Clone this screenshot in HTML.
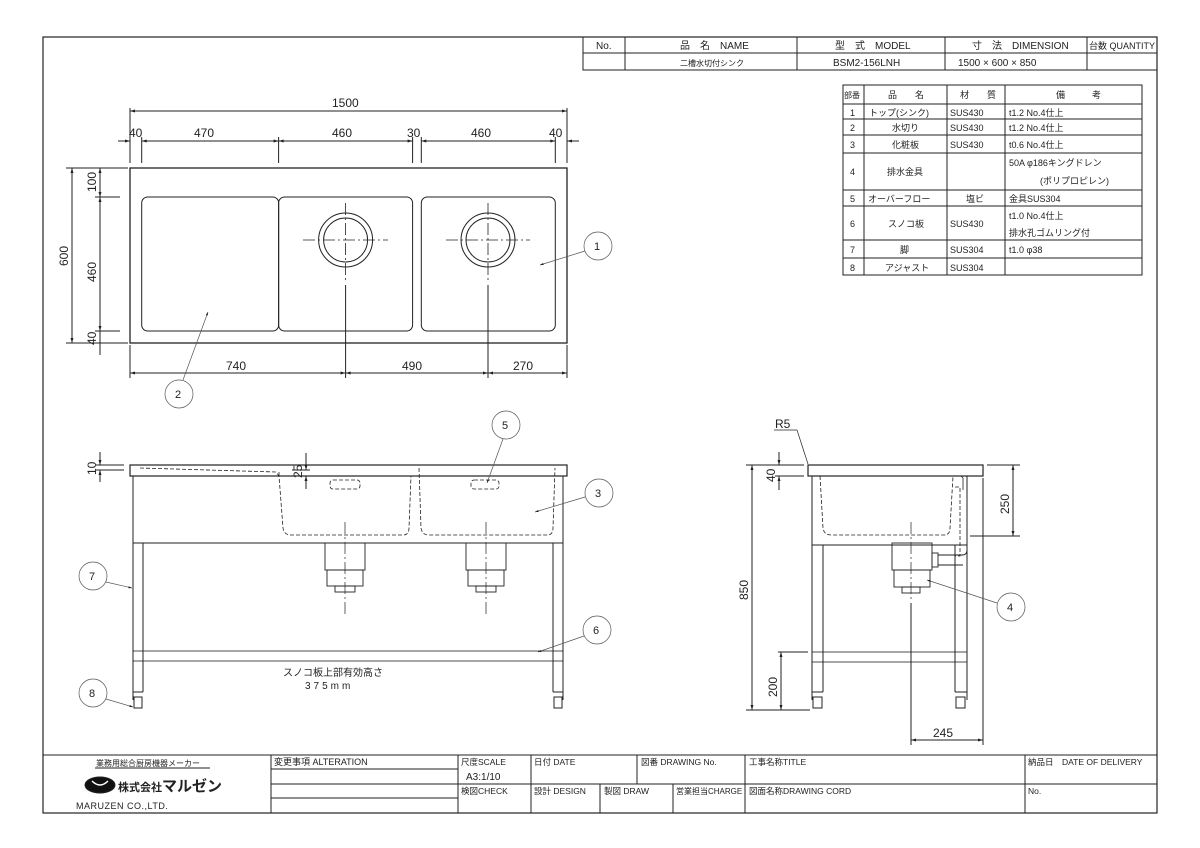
<!DOCTYPE html>
<html><head><meta charset="utf-8"><style>
html,body{margin:0;padding:0;background:#fff}
svg{display:block}
text{font-family:"Liberation Sans","Noto Sans CJK JP",sans-serif;fill:#222}
.t{font-size:10px}
.d{font-size:12px}
.n{font-size:9px}
</style></head><body>
<svg width="1200" height="848" viewBox="0 0 1200 848" xmlns="http://www.w3.org/2000/svg">
<defs>
<marker id="a" viewBox="0 0 10 10" refX="10" refY="5" markerWidth="7" markerHeight="5" orient="auto-start-reverse"><path d="M0,2 L10,5 L0,8z" fill="#222"/></marker>
</defs>
<g stroke="#222" fill="none" stroke-width="1">
<!-- frame -->
<rect x="43" y="37" width="1114" height="776" stroke-width="1.2"/>
<!-- title table top -->
<rect x="583" y="37" width="574" height="33"/>
<line x1="583" y1="53" x2="1157" y2="53"/>
<line x1="625" y1="37" x2="625" y2="70"/><line x1="797" y1="37" x2="797" y2="70"/>
<line x1="945" y1="37" x2="945" y2="70"/><line x1="1087" y1="37" x2="1087" y2="70"/>
<!-- parts table -->
<rect x="843" y="85" width="299" height="190"/>
<line x1="864" y1="85" x2="864" y2="275"/><line x1="947" y1="85" x2="947" y2="275"/><line x1="1005" y1="85" x2="1005" y2="275"/>
<line x1="843" y1="104" x2="1142" y2="104"/><line x1="843" y1="119" x2="1142" y2="119"/>
<line x1="843" y1="135" x2="1142" y2="135"/><line x1="843" y1="153" x2="1142" y2="153"/>
<line x1="843" y1="190" x2="1142" y2="190"/><line x1="843" y1="206" x2="1142" y2="206"/>
<line x1="843" y1="240" x2="1142" y2="240"/><line x1="843" y1="258" x2="1142" y2="258"/>
<!-- bottom title block -->
<line x1="43" y1="755" x2="1157" y2="755"/>
<line x1="271" y1="755" x2="271" y2="813"/><line x1="458" y1="755" x2="458" y2="813"/>
<line x1="531" y1="755" x2="531" y2="813"/><line x1="637" y1="755" x2="637" y2="784"/>
<line x1="600" y1="784" x2="600" y2="813"/><line x1="673" y1="784" x2="673" y2="813"/>
<line x1="745" y1="755" x2="745" y2="813"/><line x1="1025" y1="755" x2="1025" y2="813"/>
<line x1="458" y1="784" x2="1157" y2="784"/>
<line x1="271" y1="769" x2="458" y2="769"/><line x1="271" y1="784" x2="458" y2="784"/><line x1="271" y1="798" x2="458" y2="798"/>
<line x1="95" y1="768" x2="210" y2="768"/>

<!-- ========== PLAN VIEW ========== -->
<rect x="130" y="168" width="437" height="175" stroke-width="1.3"/>
<rect x="141.7" y="197" width="137" height="134" rx="6"/>
<rect x="278.6" y="197" width="134" height="134" rx="6"/>
<rect x="421.3" y="197" width="134" height="134" rx="6"/>
<circle cx="345.6" cy="240" r="27"/><circle cx="345.6" cy="240" r="22"/>
<circle cx="488" cy="240" r="27"/><circle cx="488" cy="240" r="22"/>
<g stroke-dasharray="12 3 2 3" stroke-width="0.8">
<line x1="303" y1="240" x2="388" y2="240"/><line x1="345.6" y1="203" x2="345.6" y2="282"/>
<line x1="446" y1="240" x2="530" y2="240"/><line x1="488" y1="203" x2="488" y2="282"/>
</g>
<line x1="345.6" y1="285" x2="345.6" y2="378"/><line x1="488" y1="285" x2="488" y2="378"/>
<!-- top dims -->
<line x1="130" y1="108" x2="130" y2="163"/><line x1="567" y1="108" x2="567" y2="163"/>
<line x1="130" y1="111" x2="567" y2="111" marker-start="url(#a)" marker-end="url(#a)"/>
<line x1="141.7" y1="137" x2="141.7" y2="163"/><line x1="278.6" y1="137" x2="278.6" y2="163"/>
<line x1="412.6" y1="137" x2="412.6" y2="163"/><line x1="421.3" y1="137" x2="421.3" y2="163"/>
<line x1="555.3" y1="137" x2="555.3" y2="163"/>
<line x1="118" y1="141" x2="130" y2="141" marker-end="url(#a)"/>
<line x1="141.7" y1="141" x2="278.6" y2="141" marker-start="url(#a)" marker-end="url(#a)"/>
<line x1="278.6" y1="141" x2="412.6" y2="141" marker-start="url(#a)" marker-end="url(#a)"/>
<line x1="421.3" y1="141" x2="555.3" y2="141" marker-start="url(#a)" marker-end="url(#a)"/>
<line x1="567" y1="141" x2="579" y2="141" marker-start="url(#a)"/>
<!-- left dims -->
<line x1="66" y1="168" x2="128" y2="168"/><line x1="66" y1="343" x2="128" y2="343"/>
<line x1="95" y1="197" x2="120" y2="197"/><line x1="95" y1="331" x2="120" y2="331"/>
<line x1="72" y1="168" x2="72" y2="343" marker-start="url(#a)" marker-end="url(#a)"/>
<line x1="100" y1="168" x2="100" y2="197" marker-start="url(#a)" marker-end="url(#a)"/>
<line x1="100" y1="197" x2="100" y2="331" marker-start="url(#a)" marker-end="url(#a)"/>
<line x1="100" y1="331" x2="100" y2="355"/>
<!-- bottom dims -->
<line x1="130" y1="345" x2="130" y2="378"/><line x1="567" y1="345" x2="567" y2="378"/>
<line x1="130" y1="373" x2="345.6" y2="373" marker-start="url(#a)" marker-end="url(#a)"/>
<line x1="345.6" y1="373" x2="488" y2="373" marker-start="url(#a)" marker-end="url(#a)"/>
<line x1="488" y1="373" x2="567" y2="373" marker-start="url(#a)" marker-end="url(#a)"/>
<!-- callouts plan -->
<g stroke-width="0.7" stroke="#555">
<circle cx="598" cy="246" r="14"/><line x1="585" y1="251" x2="540" y2="265" marker-end="url(#a)"/>
<circle cx="179" cy="394" r="14"/><line x1="183" y1="380" x2="208" y2="312" marker-end="url(#a)"/>
</g>

<!-- ========== FRONT VIEW ========== -->
<rect x="130" y="465" width="437" height="11" stroke-width="1.2"/>
<rect x="133" y="476" width="430" height="67"/>
<line x1="143" y1="543" x2="143" y2="692"/><line x1="553" y1="543" x2="553" y2="692"/>
<line x1="133" y1="543" x2="133" y2="700"/><line x1="563" y1="543" x2="563" y2="700"/>
<rect x="133" y="651" width="430" height="10" stroke-width="0.8"/>
<line x1="133" y1="692" x2="143" y2="692"/><line x1="553" y1="692" x2="563" y2="692"/>
<rect x="134" y="697" width="8" height="11"/><rect x="554" y="697" width="8" height="11"/>
<g stroke-dasharray="4 2" stroke-width="0.8">
<path d="M140,468 L276,472 L279,476 L283,528 Q284,535 291,535 L403,535 Q409,535 409,528 L411,476"/>
<path d="M279,476 L279,470"/>
<path d="M419,468 L421,528 Q422,535 429,535 L547,535 Q553,535 553,528 L555,468"/>
<rect x="330" y="480" width="30" height="9" rx="3"/><rect x="471" y="480" width="28" height="9" rx="3"/>
</g>
<g stroke-width="0.9">
<rect x="325" y="543" width="40" height="27"/><rect x="327" y="570" width="36" height="16"/>
<rect x="335" y="586" width="20" height="6"/>
<rect x="466" y="543" width="40" height="27"/><rect x="468" y="570" width="36" height="16"/>
<rect x="476" y="586" width="20" height="6"/>
</g>
<g stroke-dasharray="12 3 2 3" stroke-width="0.7">
<line x1="345" y1="522" x2="345" y2="615"/><line x1="486" y1="522" x2="486" y2="615"/>
</g>
<line x1="96" y1="465" x2="124" y2="465"/><line x1="96" y1="470" x2="124" y2="470"/>
<line x1="100" y1="452" x2="100" y2="465" marker-end="url(#a)"/><line x1="100" y1="482" x2="100" y2="470" marker-end="url(#a)"/>
<line x1="292" y1="470" x2="310" y2="470"/><line x1="292" y1="476" x2="310" y2="476"/>
<line x1="306" y1="453" x2="306" y2="470" marker-end="url(#a)"/><line x1="306" y1="489" x2="306" y2="476" marker-end="url(#a)"/>
<g stroke-width="0.7" stroke="#555">
<circle cx="506" cy="425" r="14"/><line x1="503" y1="439" x2="487" y2="483" marker-end="url(#a)"/>
<circle cx="599" cy="493" r="14"/><line x1="585" y1="497" x2="535" y2="512" marker-end="url(#a)"/>
<circle cx="93" cy="576" r="14"/><line x1="106" y1="582" x2="132" y2="588" marker-end="url(#a)"/>
<circle cx="597" cy="630" r="14"/><line x1="584" y1="636" x2="538" y2="652" marker-end="url(#a)"/>
<circle cx="93" cy="693" r="14"/><line x1="106" y1="699" x2="133" y2="707" marker-end="url(#a)"/>
</g>

<!-- ========== SIDE VIEW ========== -->
<rect x="808" y="465" width="175" height="11" stroke-width="1.2"/>
<rect x="812" y="476" width="155" height="69"/>
<line x1="823" y1="545" x2="823" y2="692"/><line x1="955" y1="545" x2="955" y2="692"/>
<line x1="812" y1="545" x2="812" y2="700"/><line x1="967" y1="545" x2="967" y2="700"/>
<rect x="812" y="652" width="155" height="10" stroke-width="0.8"/>
<line x1="812" y1="692" x2="823" y2="692"/><line x1="955" y1="692" x2="967" y2="692"/>
<rect x="813" y="697" width="9" height="11"/><rect x="956" y="697" width="9" height="11"/>
<path d="M961,476 L963,478 L963,490" stroke-width="0.8"/>
<g stroke-dasharray="4 2" stroke-width="0.8">
<path d="M820,476 L823,528 Q824,535 831,535 L944,535 Q950,535 950,528 L953,476"/>
<path d="M955,487 L960,487 L960,556 L955,556"/>
</g>
<g stroke-width="0.9">
<rect x="892" y="543" width="40" height="27"/><rect x="894" y="570" width="36" height="17"/>
<rect x="902" y="587" width="18" height="6"/>
<rect x="932" y="553" width="6" height="14"/><path d="M938,555 L962,555 Q967,555 967,550 M938,565 L963,565"/>
</g>
<line x1="911" y1="522" x2="911" y2="600" stroke-dasharray="12 3 2 3" stroke-width="0.7"/>
<line x1="911" y1="603" x2="911" y2="745"/><line x1="983" y1="478" x2="983" y2="745"/>
<line x1="911" y1="740" x2="983" y2="740" marker-start="url(#a)" marker-end="url(#a)"/>
<line x1="746" y1="465" x2="804" y2="465"/><line x1="746" y1="710" x2="810" y2="710"/>
<line x1="752" y1="465" x2="752" y2="710" marker-start="url(#a)" marker-end="url(#a)"/>
<line x1="775" y1="476" x2="804" y2="476"/>
<line x1="779" y1="452" x2="779" y2="465" marker-end="url(#a)"/><line x1="779" y1="490" x2="779" y2="476" marker-end="url(#a)"/>
<line x1="778" y1="652" x2="808" y2="652"/>
<line x1="781" y1="652" x2="781" y2="710" marker-start="url(#a)" marker-end="url(#a)"/>
<line x1="987" y1="465" x2="1020" y2="465"/><line x1="970" y1="536" x2="1020" y2="536"/>
<line x1="1013" y1="465" x2="1013" y2="536" marker-start="url(#a)" marker-end="url(#a)"/>
<line x1="774" y1="430" x2="797" y2="430" stroke-width="0.7"/><line x1="797" y1="430" x2="808" y2="464" stroke-width="0.7"/>
<g stroke-width="0.7" stroke="#555">
<circle cx="1011" cy="607" r="14"/><line x1="997" y1="603" x2="927" y2="580" marker-end="url(#a)"/>
</g>
<!-- logo -->
<ellipse cx="100" cy="785" rx="15" ry="8" fill="#111"/>
<path d="M92,781 Q100,789 108,781" stroke="#fff" stroke-width="1.5"/>
</g>

<!-- ===== TEXT ===== -->
<g class="t">
<text x="596" y="49">No.</text>
<text x="680" y="49">品　名　NAME</text>
<text x="835" y="49">型　式　MODEL</text>
<text x="972" y="49">寸　法　DIMENSION</text>
<text x="1089" y="49" font-size="9">台数 QUANTITY</text>
<text x="680" y="66" font-size="8">二槽水切付シンク</text>
<text x="833" y="66">BSM2-156LNH</text>
<text x="958" y="66">1500 × 600 × 850</text>
</g>
<g class="n" fill="#444">
<text x="844" y="98" font-size="8">部番</text><text x="888" y="98">品　　名</text><text x="960" y="98">材　　質</text><text x="1056" y="98">備　　　考</text>
<text x="850" y="116">1</text><text x="869" y="116">トップ(シンク)</text><text x="950" y="116">SUS430</text><text x="1009" y="116">t1.2 No.4仕上</text>
<text x="850" y="131">2</text><text x="892" y="131">水切り</text><text x="950" y="131">SUS430</text><text x="1009" y="131">t1.2 No.4仕上</text>
<text x="850" y="148">3</text><text x="892" y="148">化粧板</text><text x="950" y="148">SUS430</text><text x="1009" y="148">t0.6 No.4仕上</text>
<text x="850" y="175">4</text><text x="887" y="175">排水金具</text><text x="1009" y="166">50A φ186キングドレン</text><text x="1040" y="184">(ポリプロピレン)</text>
<text x="850" y="202">5</text><text x="868" y="202">オーバーフロー</text><text x="966" y="202">塩ビ</text><text x="1009" y="202">金具SUS304</text>
<text x="850" y="227">6</text><text x="888" y="227">スノコ板</text><text x="950" y="227">SUS430</text><text x="1009" y="219">t1.0 No.4仕上</text><text x="1009" y="236">排水孔ゴムリング付</text>
<text x="850" y="253">7</text><text x="900" y="253">脚</text><text x="950" y="253">SUS304</text><text x="1009" y="253">t1.0 φ38</text>
<text x="850" y="271">8</text><text x="885" y="271">アジャスト</text><text x="950" y="271">SUS304</text>
</g>
<g class="d">
<text x="332" y="107">1500</text>
<text x="129" y="137">40</text><text x="194" y="137">470</text><text x="332" y="137">460</text><text x="407" y="137">30</text><text x="471" y="137">460</text><text x="549" y="137">40</text>
<text x="226" y="370">740</text><text x="402" y="370">490</text><text x="513" y="370">270</text>
<text transform="translate(68,266) rotate(-90)">600</text>
<text transform="translate(96,282) rotate(-90)">460</text>
<text transform="translate(96,192) rotate(-90)">100</text>
<text transform="translate(96,345) rotate(-90)">40</text>
<text transform="translate(96,475) rotate(-90)">10</text>
<text transform="translate(302,478) rotate(-90)">25</text>
<text x="775" y="428">R5</text>
<text transform="translate(775,482) rotate(-90)">40</text>
<text transform="translate(748,600) rotate(-90)">850</text>
<text transform="translate(777,697) rotate(-90)">200</text>
<text transform="translate(1009,514) rotate(-90)">250</text>
<text x="933" y="737">245</text>
</g>
<g font-size="11" fill="#555">
<text x="594" y="250">1</text><text x="175" y="398">2</text><text x="502" y="429">5</text><text x="595" y="497">3</text>
<text x="89" y="580">7</text><text x="593" y="634">6</text><text x="89" y="697">8</text><text x="1007" y="611">4</text>
</g>
<text x="283" y="676" font-size="10" fill="#444">スノコ板上部有効高さ</text>
<text x="305" y="689" font-size="10" fill="#444" letter-spacing="3">375mm</text>
<g font-size="8.5">
<text x="96" y="766" font-size="8">業務用総合厨房機器メーカー</text>
<text x="118" y="791" font-size="11" font-weight="bold">株式会社<tspan font-size="15">マルゼン</tspan></text>
<text x="76" y="809" font-size="9" letter-spacing="0.5">MARUZEN CO.,LTD.</text>
<text x="274" y="765" font-size="9">変更事項 ALTERATION</text>
<text x="461" y="765">尺度SCALE</text><text x="466" y="780" font-size="10">A3:1/10</text>
<text x="534" y="765">日付 DATE</text><text x="641" y="765">図番 DRAWING No.</text>
<text x="749" y="765">工事名称TITLE</text><text x="1028" y="765">納品日　DATE OF DELIVERY</text>
<text x="461" y="794">検図CHECK</text><text x="534" y="794">設計 DESIGN</text><text x="604" y="794">製図 DRAW</text>
<text x="676" y="794" font-size="8">営業担当CHARGE</text><text x="749" y="794">図面名称DRAWING CORD</text><text x="1028" y="794">No.</text>
</g>
</svg>
</body></html>
